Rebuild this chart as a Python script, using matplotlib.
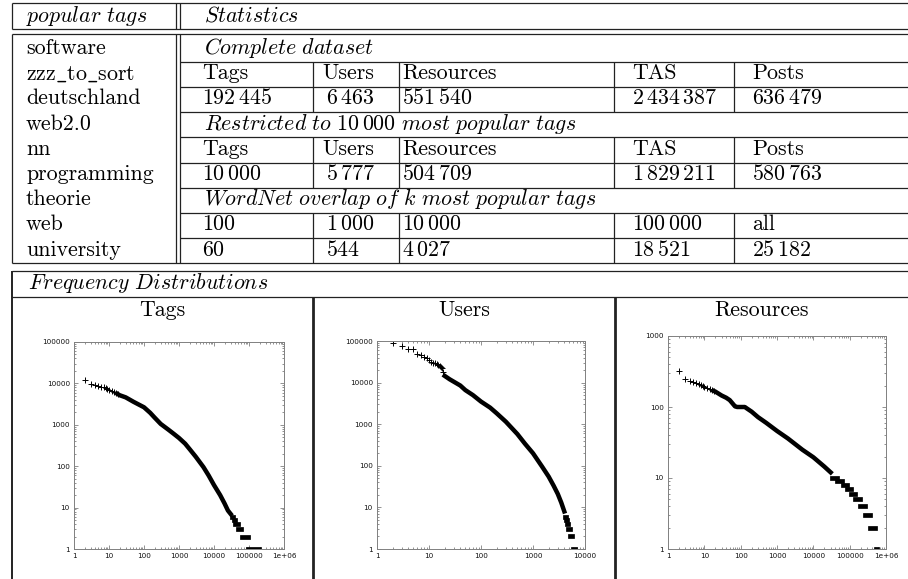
import matplotlib
matplotlib.use('Agg')
import matplotlib.pyplot as plt
from matplotlib.ticker import LogLocator, NullFormatter

# ---- table data ----
popular_tags = ['software', 'zzz_to_sort', 'deutschland', 'web2.0', 'nn',
                'programming', 'theorie', 'web', 'university']
stat_headers = ['Tags', 'Users', 'Resources', 'TAS', 'Posts']
complete_vals = [192445, 6463, 551540, 2434387, 636479]
restricted_vals = [10000, 5777, 504709, 1829211, 580763]
wordnet_k = [100, 1000, 10000, 100000, 'all']
wordnet_overlap = [60, 544, 4027, 18521, 25182]

panel_titles = ['Tags', 'Users', 'Resources']

# ---- frequency distributions (rank, count) ----
tags_head_x = [2, 3, 4, 5, 6, 7, 8, 9, 10, 12, 14, 16, 18]
tags_head_y = [12000, 9500, 9000, 8600, 8300, 8000, 7700, 7400, 7100, 6600, 6100, 5800, 5500]
tags_body_x = [18, 20, 30, 50, 70, 100, 150, 200, 300, 500, 700, 1000, 1500, 2000,
               3000, 5000, 7000, 10000, 15000, 20000, 25000, 30000]
tags_body_y = [5500, 5200, 4600, 3600, 3100, 2650, 1950, 1500, 1050, 760, 610, 480,
               350, 260, 170, 95, 60, 35, 20, 12.6, 8.5, 7]
tags_tail_y = [6, 5, 4, 3, 2, 1]
tags_tail_x0 = [33000, 36500, 41000, 50000, 62000, 95000]
tags_tail_x1 = [36000, 40500, 49500, 61000, 94000, 190000]

users_head_x = [2, 3, 4, 5, 6, 7, 8, 9, 10, 11, 12, 13, 14, 15, 16, 17, 18, 19]
users_head_y = [88000, 76000, 63000, 63000, 50000, 46000, 42000, 38000, 35000, 32000,
                30000, 29000, 28000, 26500, 25000, 23500, 22000, 18000]
users_body_x = [20, 25, 30, 40, 50, 70, 100, 150, 200, 300, 500, 700, 1000, 1500,
                2000, 2500, 3000, 3500, 4000]
users_body_y = [14500, 12000, 10500, 8500, 6600, 5000, 3500, 2500, 1830, 1150, 580,
                340, 200, 95, 55, 33, 21, 13, 8]
users_tail_y = [6, 5, 4, 3, 2, 1]
users_tail_x0 = [4150, 4350, 4500, 4750, 5150, 5900]
users_tail_x1 = [4300, 4450, 4700, 5100, 5700, 6400]

res_head_x = [2, 3, 4, 5, 6, 7, 8, 9, 10, 12, 14, 16, 18]
res_head_y = [325, 245, 232, 222, 220, 212, 206, 200, 193, 186, 180, 174, 169]
res_body_x = [18, 20, 30, 40, 50, 60, 70, 80, 100, 130, 150, 200, 300, 500, 1000,
              2000, 5000, 10000, 20000, 30000]
res_body_y = [169, 165, 145, 135, 125, 112, 102, 100, 100, 100, 95, 86, 72, 60, 46,
              36, 25, 19.6, 14.5, 12]
res_tail_y = [10, 9, 8, 7, 6, 5, 4, 3, 2, 1]
res_tail_x0 = [33000, 45000, 64000, 83000, 107000, 142000, 195000, 268000, 370000, 520000]
res_tail_x1 = [44000, 63000, 82000, 106000, 141000, 194000, 267000, 369000, 510000, 551000]

xticks_wide = [1, 10, 100, 1000, 10000, 100000, 1e6]
xlabels_wide = ['1', '10', '100', '1000', '10000', '100000', '1e+06']
xticks_users = [1, 10, 100, 1000, 10000]
xlabels_users = ['1', '10', '100', '1000', '10000']
yticks_big = [1, 10, 100, 1000, 10000, 100000]
ylabels_big = ['1', '10', '100', '1000', '10000', '100000']
yticks_res = [1, 10, 100, 1000]
ylabels_res = ['1', '10', '100', '1000']

plt.rcParams['mathtext.fontset'] = 'cm'

W, H = 908, 579
FS = 15.8
LC = '#222222'

fig = plt.figure(figsize=(W / 100, H / 100), dpi=100)
bg = fig.add_axes([0, 0, 1, 1])
bg.set_xlim(0, W)
bg.set_ylim(H, 0)
bg.axis('off')


def hl(y, x0, x1, lw=0.9):
    bg.plot([x0, x1], [y, y], color=LC, lw=lw, solid_capstyle='butt')


def vl(x, y0, y1, lw=0.9):
    bg.plot([x, x], [y0, y1], color=LC, lw=lw, solid_capstyle='butt')


def put(x, y, s, ha='left'):
    bg.text(x, y, s, fontsize=FS, family='cmr10', ha=ha, va='baseline')


def num(v):
    if isinstance(v, str):
        return v
    return '$' + f'{v:,}'.replace(',', r'\,') + '$'


# header
hl(3, 12, W)
hl(29, 12, W)
hl(34, 12, W)
for x in (12, 176, 180):
    vl(x, 3, 29)
put(26, 22, r'$\mathit{popular\ tags}$')
put(204, 22, r'$\mathit{Statistics}$')

# main table
row0, rowh = 36.6, 25.2
bounds = [row0 + rowh * k for k in range(10)]
base = [b + 17.4 for b in bounds[:9]]
for x in (12, 176, 180):
    vl(x, 34, bounds[9])
for k in range(1, 9):
    hl(bounds[k], 180, W)
hl(bounds[9], 12, W)
col_lines = [313, 399, 614, 734]
col_x = [202, 326, 402, 632, 752]
for k0 in (1, 4, 7):
    for x in col_lines:
        vl(x, bounds[k0], bounds[k0 + 2])

for i, tag in enumerate(popular_tags):
    put(26, base[i], '$\\mathrm{' + tag.replace('_', r'\_') + '}$' if '_' in tag else tag)

put(204, base[0], r'$\mathit{Complete\ dataset}$')
put(204, base[3], r'$\mathit{Restricted\ to\ }10\,000\mathit{\ most\ popular\ tags}$')
put(204, base[6], r'$\mathit{WordNet\ overlap\ of\ }k\mathit{\ most\ popular\ tags}$')
for j in range(5):
    put(col_x[j] - (4 if j == 1 else 0), base[1], stat_headers[j])
    put(col_x[j], base[2], num(complete_vals[j]))
    put(col_x[j] - (4 if j == 1 else 0), base[4], stat_headers[j])
    put(col_x[j], base[5], num(restricted_vals[j]))
    put(col_x[j], base[7], num(wordnet_k[j]))
    put(col_x[j], base[8], num(wordnet_overlap[j]))

# frequency distributions box
hl(271, 12, W)
hl(297, 12, W)
vl(12, 271, H, lw=1.4)
vl(313, 297, H, lw=2.0)
vl(615, 297, H, lw=2.0)
put(28, 289, r'$\mathit{Frequency\ Distributions}$')
for cx, title in zip([162, 464, 762], panel_titles):
    put(cx, 316, title, ha='center')


def panel(rect, hx, hy, bx, by, ty, tx0, tx1, xt, xl, yt, yl):
    l, t, r, b = rect
    ax = fig.add_axes([l / W, 1 - b / H, (r - l) / W, (b - t) / H])
    ax.set_xscale('log')
    ax.set_yscale('log')
    ax.plot(bx, by, '-', color='k', lw=3.2)
    ax.hlines(ty, tx0, tx1, color='k', lw=3.4, capstyle='projecting')
    ax.plot(hx, hy, '+', color='k', ms=4, mew=0.7)
    ax.set_xlim(xt[0], xt[-1])
    ax.set_ylim(yt[0], yt[-1])
    ax.set_xticks(xt, xl)
    ax.set_yticks(yt, yl)
    ax.xaxis.set_minor_locator(LogLocator(subs=range(2, 10)))
    ax.yaxis.set_minor_locator(LogLocator(subs=range(2, 10)))
    ax.xaxis.set_minor_formatter(NullFormatter())
    ax.yaxis.set_minor_formatter(NullFormatter())
    ax.tick_params(which='both', direction='in', top=True, right=True,
                   color='#808080', width=0.6, labelsize=5.2, labelcolor='#111111', pad=3)
    ax.tick_params(which='major', length=3)
    ax.tick_params(which='minor', length=1.5)
    for sp in ax.spines.values():
        sp.set_color('#808080')
        sp.set_linewidth(0.7)
    return ax


panel((74, 342, 284, 549), tags_head_x, tags_head_y, tags_body_x, tags_body_y,
      tags_tail_y, tags_tail_x0, tags_tail_x1, xticks_wide, xlabels_wide,
      yticks_big, ylabels_big)
panel((377, 341, 585, 549), users_head_x, users_head_y, users_body_x, users_body_y,
      users_tail_y, users_tail_x0, users_tail_x1, xticks_users, xlabels_users,
      yticks_big, ylabels_big)
panel((668, 336, 886, 549), res_head_x, res_head_y, res_body_x, res_body_y,
      res_tail_y, res_tail_x0, res_tail_x1, xticks_wide, xlabels_wide,
      yticks_res, ylabels_res)

fig.savefig('out.png', dpi=100)
